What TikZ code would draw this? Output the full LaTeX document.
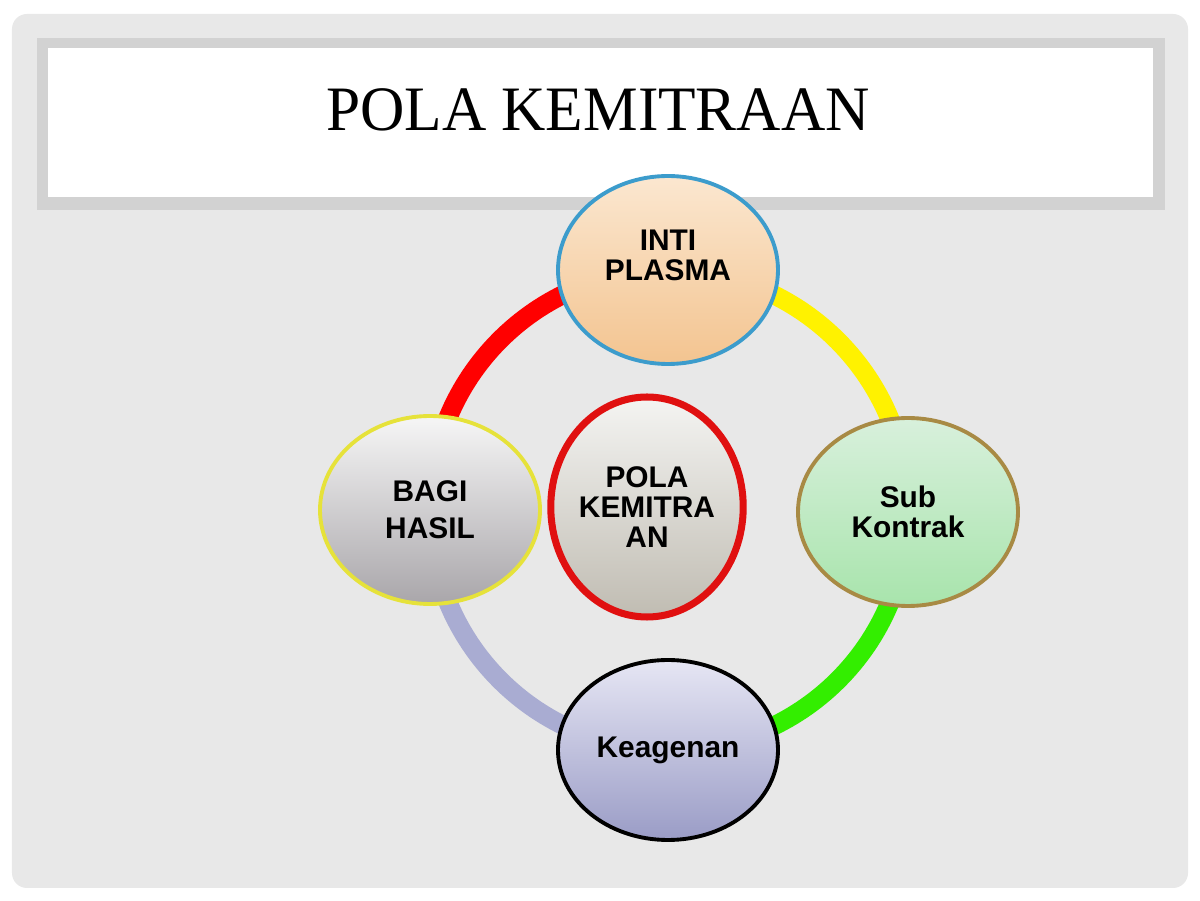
\documentclass[tikz,border=0pt]{standalone}
\usepackage{fontspec}
\setmainfont{Liberation Serif}
\setsansfont{Liberation Sans}
\usetikzlibrary{shapes.geometric,backgrounds,positioning}
\definecolor{panelgray}{HTML}{E8E8E8}
\definecolor{framegray}{HTML}{D2D2D2}
\definecolor{ringlav}{HTML}{A9ACD2}
\definecolor{ringgreen}{HTML}{33EE00}

\begin{document}
\begin{tikzpicture}[
  bubble/.style={ellipse,draw,line width=1.1pt,minimum width=22mm,minimum height=18.8mm,
    inner sep=0pt,align=center,font=\sffamily\bfseries\fontsize{8.5}{8.6}\selectfont},
  link/.style={line width=1.9mm}]
\useasboundingbox (0,0) rectangle (120mm,-90.1mm);
\begin{scope}[on background layer]
\fill[white] (0,0) rectangle (120mm,-90.1mm);
\fill[panelgray,rounded corners=1.5mm] (1.2mm,-1.4mm) rectangle (118.8mm,-88.8mm);
\fill[framegray] (3.7mm,-3.8mm) rectangle (116.5mm,-21.0mm);
\fill[white] (4.8mm,-4.8mm) rectangle (115.3mm,-19.7mm);
\end{scope}
\node[xscale=0.97](title) at (59.8mm,-11mm) {\fontsize{18}{20}\selectfont POLA KEMITRAAN};
\node[coordinate](hub) at (66.8mm,-51mm){};
\node[bubble,draw={rgb,255:red,60;green,156;blue,204},top color={rgb,255:red,251;green,231;blue,208},bottom color={rgb,255:red,243;green,196;blue,144}](inti) at ([yshift=24mm]hub) {INTI\\PLASMA\\\mbox{}};
\node[bubble,draw={rgb,255:red,230;green,226;blue,58},top color={rgb,255:red,246;green,246;blue,246},bottom color={rgb,255:red,169;green,166;blue,170}](bagi) at ([xshift=-23.8mm]hub) {BAGI\\[2pt]HASIL};
\node[bubble,draw={rgb,255:red,168;green,138;blue,68},top color={rgb,255:red,216;green,240;blue,220},bottom color={rgb,255:red,168;green,228;blue,172}](sub) at ([xshift=24mm,yshift=-0.2mm]hub) {Sub\\Kontrak};
\node[bubble,draw=black,minimum height=18mm,top color={rgb,255:red,230;green,230;blue,244},bottom color={rgb,255:red,154;green,156;blue,198}](agen) at ([yshift=-24mm]hub) {Keagenan};
\node[bubble,draw={rgb,255:red,224;green,16;blue,16},line width=2pt,minimum width=18.6mm,minimum height=22mm,top color={rgb,255:red,244;green,244;blue,242},bottom color={rgb,255:red,192;green,188;blue,178}](pola) at ([xshift=-2.1mm,yshift=0.3mm]hub) {POLA\\KEMITRA\\AN};
\begin{scope}[on background layer]
\draw[link,red] (bagi.center) to[bend left=45] (inti.center);
\draw[link,yellow] (inti.center) to[bend left=45] (sub.center);
\draw[link,ringgreen] (sub.center) to[bend left=45] (agen.center);
\draw[link,ringlav] (agen.center) to[bend left=45] (bagi.center);
\end{scope}
\end{tikzpicture}
\end{document}
